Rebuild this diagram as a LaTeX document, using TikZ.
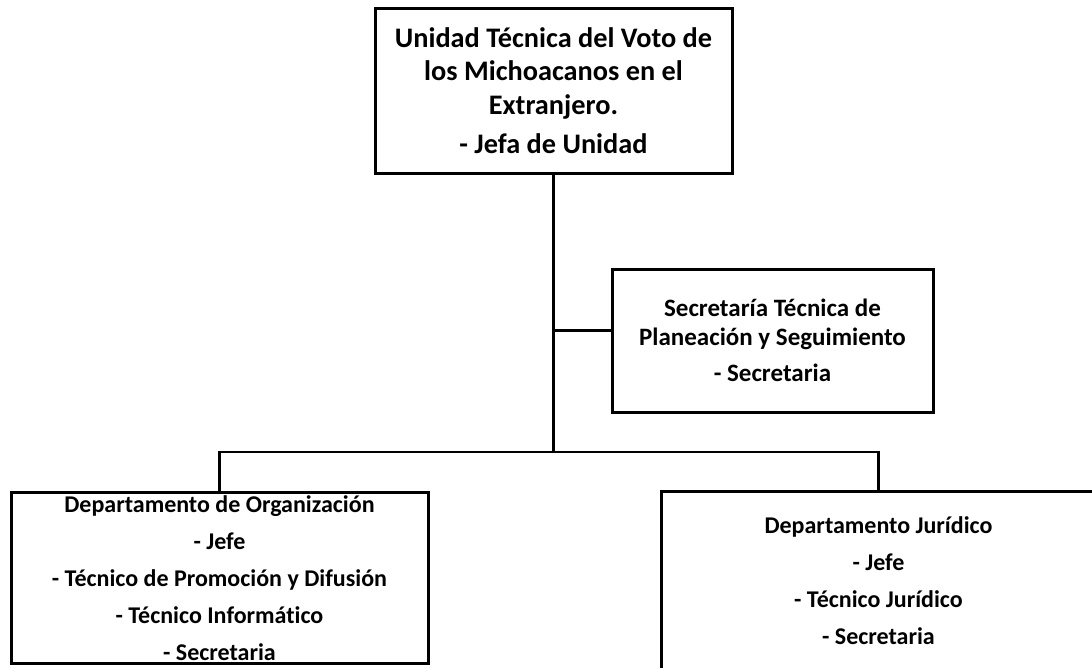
\documentclass[tikz,border=0pt]{standalone}
\usepackage{fontspec}
\setmainfont[Ligatures=NoCommon]{Carlito}
\begin{document}
\begin{tikzpicture}[x=1pt, y=-1pt,
    unitbox/.style={rectangle, draw, line width=3pt, align=center, inner sep=0pt},
    link/.style={line width=2.6pt}]
  \useasboundingbox (0, 0) rectangle (1092, 667);

  \node[unitbox, minimum width=357, minimum height=165,
        font=\fontsize{28.3}{33.5}\selectfont\bfseries] (unidad) at (553.5, 90.5)
    {Unidad Técnica del Voto de\\ los Michoacanos en el\\ Extranjero.\\[6pt] - Jefa de Unidad};
  \node[unitbox, minimum width=321, minimum height=143,
        font=\fontsize{25}{29}\selectfont\bfseries] (secret) at (772.5, 340.5)
    {Secretaría Técnica de\\ Planeación y Seguimiento\\[7pt] - Secretaria};
  \node[unitbox, minimum width=417, minimum height=171,
        font=\fontsize{24}{37}\selectfont\bfseries] (organiz) at (219.5, 578)
    {Departamento de Organización\\ - Jefe\\ - Técnico de Promoción y Difusión\\ - Técnico Informático\\ - Secretaria};
  \node[unitbox, minimum width=435, minimum height=180,
        font=\fontsize{24}{37}\selectfont\bfseries] (juridico) at (878.5, 581)
    {Departamento Jurídico\\ - Jefe\\ - Técnico Jurídico\\ - Secretaria};

  \coordinate (bus) at (553.5, 452);

  \draw[link] ([yshift=10]secret.west) -- ([yshift=10]secret.west -| unidad.south);
  \draw[link] (unidad.south) -- (bus);
  \draw[link] (organiz.north) |- (bus) -| (juridico.north);
\end{tikzpicture}
\end{document}
